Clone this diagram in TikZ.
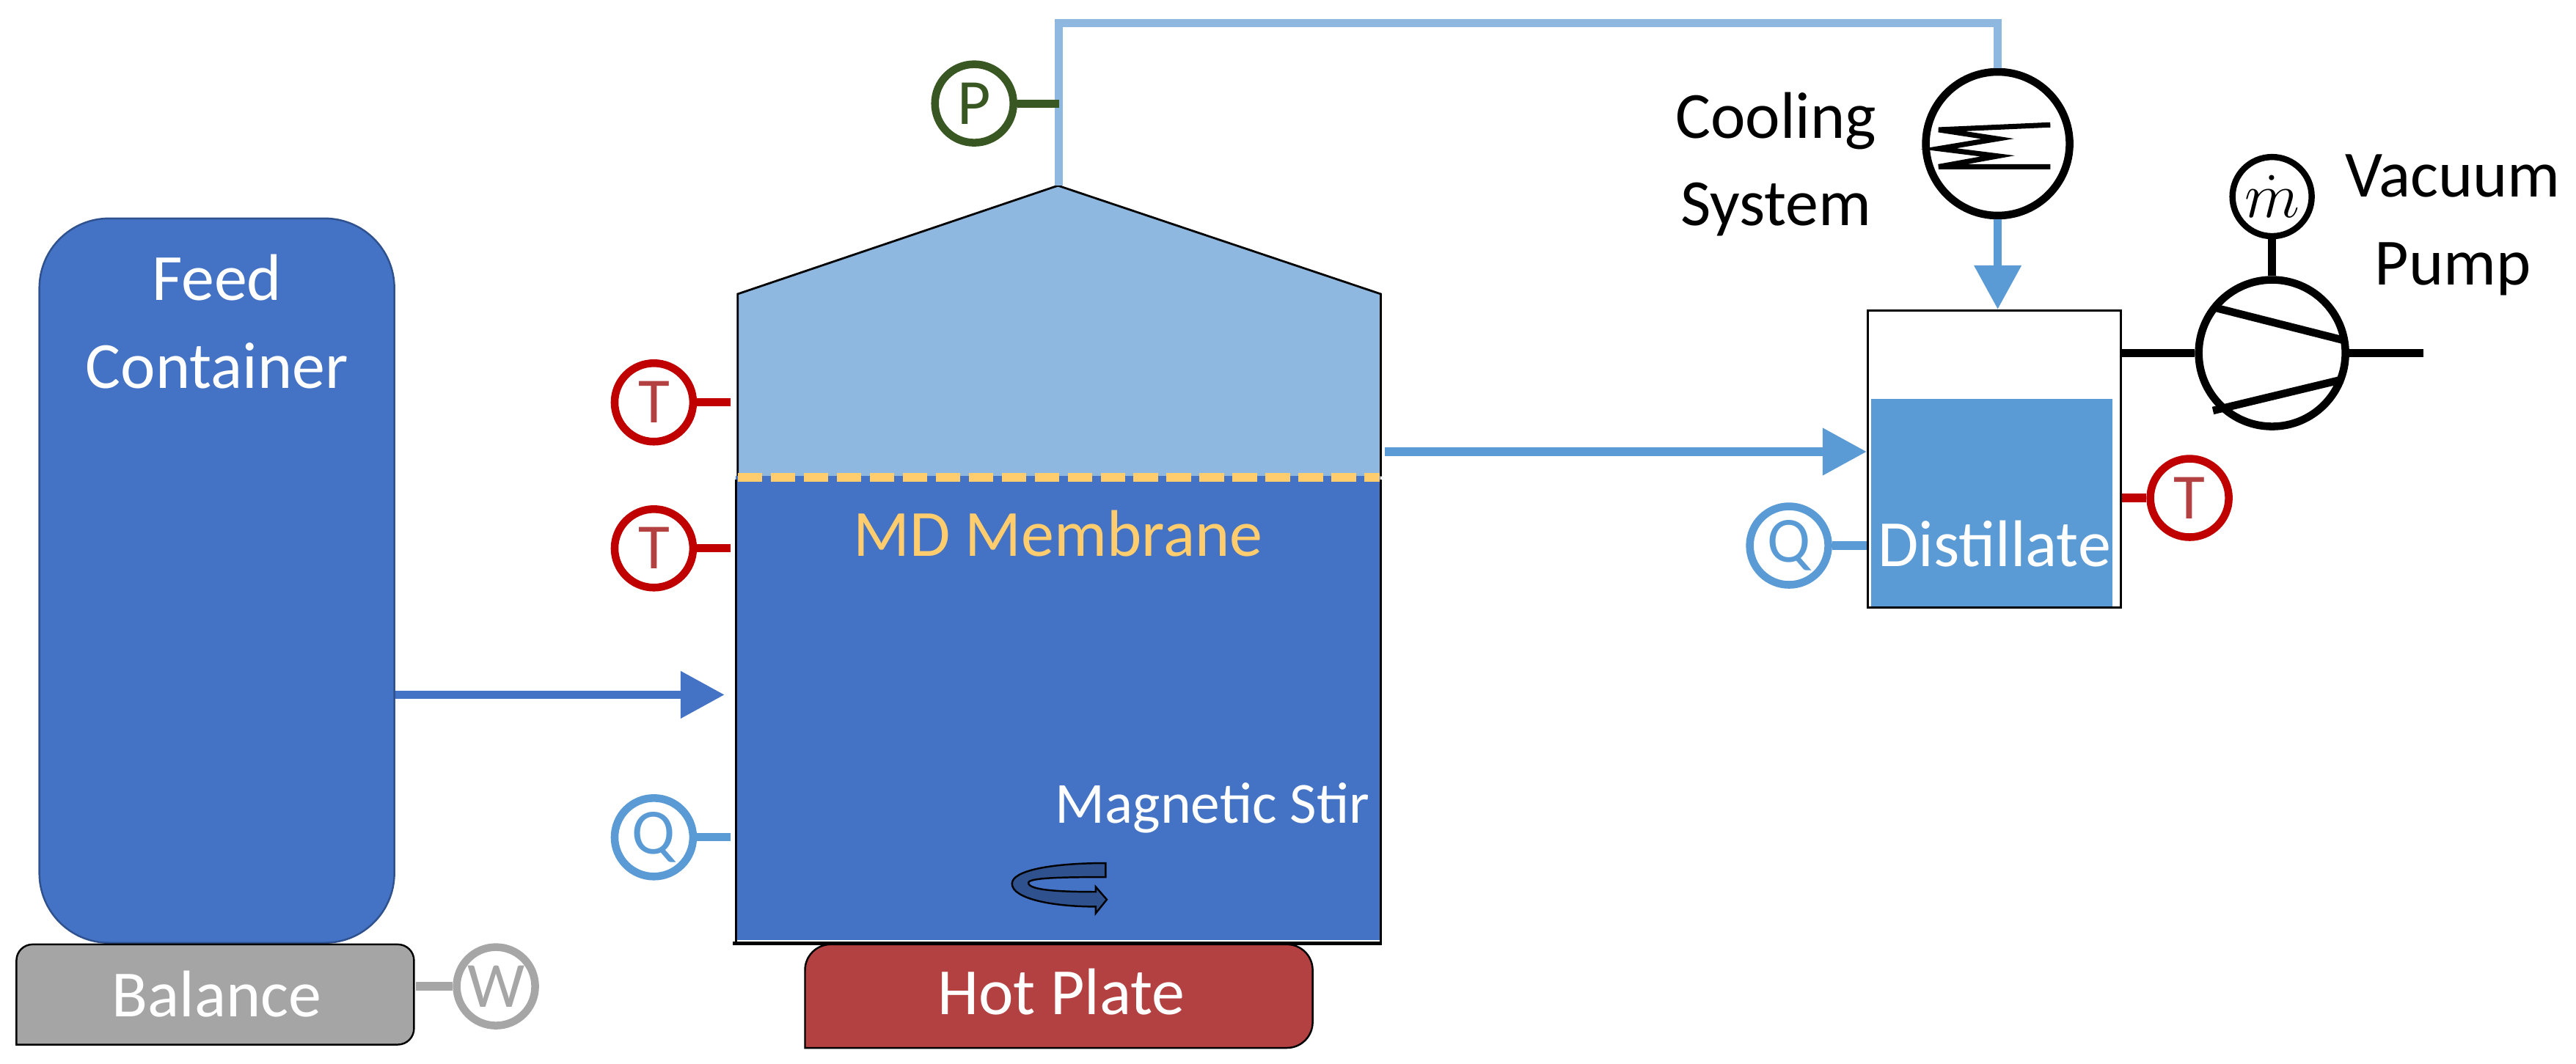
\documentclass[tikz,border=0pt]{standalone}
\usepackage{fontspec}
\setmainfont{Carlito}
\usetikzlibrary{calc,arrows.meta,positioning}
\definecolor{feedblue}{HTML}{4472C4}
\definecolor{feededge}{HTML}{2F528F}
\definecolor{vaporblue}{HTML}{8FB8E1}
\definecolor{waterblue}{HTML}{5B9BD5}
\definecolor{sensorred}{HTML}{C00000}
\definecolor{sensorgreen}{HTML}{385723}
\definecolor{sensorgray}{HTML}{A6A6A6}
\definecolor{plategray}{HTML}{A5A5A5}
\definecolor{platered}{HTML}{B44141}
\definecolor{membrane}{HTML}{FFCD6E}

\begin{document}
\begin{tikzpicture}[x=0.0224cm,y=-0.0224cm,>={Triangle[length=0.6cm,width=0.62cm]}]
\tikzset{
block/.style= {draw, rectangle, line width=0.7pt},
textblock/.style= {align=center, inner sep=0pt, font=\fontsize{25.6}{34}\selectfont},
whitetext/.style= {textblock, text=white},
sensor/.style = {draw, circle, fill=white, line width=3pt, minimum size=1.07cm, inner sep=0pt, font=\fontsize{25}{30}\selectfont},
tempsensor/.style = {sensor, draw=sensorred, text=platered},
heatsensor/.style = {sensor, draw=waterblue, text=waterblue},
blackcircle/.style = {draw, circle, fill=white, line width=3pt, inner sep=0pt},
stub/.style = {line width=3.2pt},
flow/.style = {line width=3.2pt, ->}
}
\useasboundingbox (0,0) rectangle (1568,647.4);

% vessel
\fill [vaporblue] (449,290) -- (449,179) -- (644,113) -- (840.5,179) -- (840.5,290) -- cycle;
\draw [line width=0.8pt] (449,290) -- (449,179) -- (644,113) -- (840.5,179) -- (840.5,290);
\coordinate (apex) at (644.5,113);
\node [block, fill=feedblue, draw=feedblue, minimum width=8.76cm, minimum height=6.3cm] (brine) at (644,431) {};
\draw [black, line width=0.8pt] (448,292) -- (448,574) (840.5,292) -- (840.5,574);
\draw [black, line width=1.4pt] (446,574.5) -- (841,574.5);
\draw [membrane, line width=3.4pt, dash pattern=on 9.6pt off 3.2pt] (449,290.5) -- (840,290.5);
\node [textblock, text=membrane] (mdtext) at (644,325) {MD Membrane};
\node [textblock, text=white, font=\fontsize{22.6}{26}\selectfont] (stirtext) at (738,492) {Magnetic Stir};
\draw [black, fill=feededge, line width=0.7pt] (673,525.5) .. controls (640,525.5) and (616,530) .. (616,538)
 .. controls (616,547) and (640,552) .. (667,552) -- (667,556) -- (673.7,547.7) -- (667,540) -- (667,543)
 .. controls (645,543) and (626,542) .. (626,537.5) .. controls (626,534.5) and (645,534) .. (673,534) -- cycle;

% feed and plates
\node [block, fill=feedblue, draw=feededge, rounded corners=0.95cm, minimum width=4.84cm, minimum height=9.88cm] (feed) at (132,353.5) {};
\node [whitetext, below = 0.5cm of feed.north] (feedtext) {Feed\\Container};
\draw [block, fill=plategray] (10,636) [rounded corners=0.22cm] -- (10,575) -- (252,575) -- (252,636) [sharp corners] -- cycle;
\node [whitetext, minimum width=5.42cm, minimum height=1.37cm] (balance) at (132,605) {Balance};
\draw [block, fill=platered] (490,638) [rounded corners=0.35cm] -- (490,575) -- (799,575) -- (799,638) [sharp corners] -- cycle;
\node [whitetext, minimum width=6.9cm, minimum height=1.4cm] (hotplate) at (646,604) {Hot Plate};

% distillate tank
\node [block, draw=black, fill=white, line width=1pt, minimum width=3.45cm, minimum height=4.05cm] (tank) at (1214,279.5) {};
\fill [waterblue] (1139,243) rectangle (1286,369);
\node [whitetext] (distillate) at (1214,331) {Distillate};

% cooler and pump
\node [blackcircle, minimum size=1.96cm] (cooler) at (1216,87.5) {};
\draw [line width=2pt] (1248,76) -- (1180,79) -- (1216,84.5) -- (1180,90.5) -- (1216,95) -- (1180,101.5) -- (1248,101.5);
\node [textblock] (coolertext) at (1081,100) {Cooling\\System};
\node [blackcircle, minimum size=2cm] (pump) at (1383,215) {};
\draw [line width=3pt] (1347,187) -- (1426,207) (1347,250) -- (1426,231);
\node [blackcircle, line width=2.4pt, minimum size=1.08cm, above = 0.5cm of pump] (massflow) {\fontsize{31}{36}\selectfont$\dot{m}$};
\node [textblock] (pumptext) at (1493,137) {Vacuum\\Pump};
\coordinate (pumpout) at (1475,215);

% sensors
\node [sensor, draw=sensorgreen, text=sensorgreen] (press) at (593,63) {P};
\node [tempsensor] (tempa) at (398,245) {T};
\node [tempsensor, below = 0.815cm of tempa] (tempb) {T};
\node [heatsensor, below = 2.765cm of tempb] (heata) {Q};
\node [sensor, draw=sensorgray, text=sensorgray, right = 0.5cm of balance, yshift=0.1cm] (weight) {W};
\node [tempsensor, right = 0.33cm of tank, yshift=-0.53cm] (tempc) {T};
\node [heatsensor, left = 0.47cm of tank, yshift=-1.18cm] (heatb) {Q};

% connectors
\draw [vaporblue, line width=3.2pt] (apex) |- (1216,14) -- (cooler);
\draw [sensorgreen, stub] (press) -- (press-|apex);
\draw [sensorred, stub, shorten >=0.07cm] (tempa) -- (tempa-|brine.west);
\draw [sensorred, stub, shorten >=0.07cm] (tempb) -- (tempb-|brine.west);
\draw [waterblue, stub, shorten >=0.07cm] (heata) -- (heata-|brine.west);
\draw [sensorgray, stub] (weight) -- (weight-|balance.east);
\draw [sensorred, stub] (tempc) -- (tempc-|tank.east);
\draw [waterblue, stub] (heatb) -- (heatb-|tank.west);
\draw [feedblue, flow] (feed.east|-0,423) -- (441,423);
\draw [waterblue, flow] (843,275) -- (tank.west|-0,275);
\draw [waterblue, flow] (cooler) -- (tank.north-|cooler);
\draw [stub] (tank.east|-pump) -- (pump);
\draw [stub] (pump) -- (pumpout);
\draw [stub] (massflow) -- (pump);
\end{tikzpicture}
\end{document}
